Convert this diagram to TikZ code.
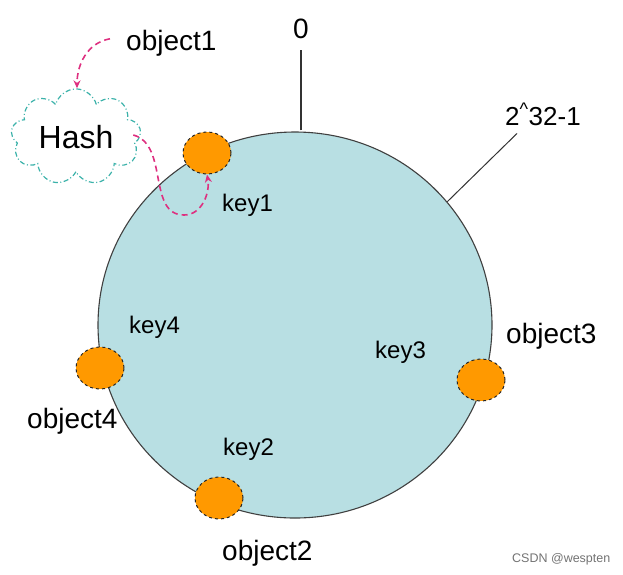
\documentclass[tikz,border=0pt]{standalone}
\usepackage{fontspec}
\setmainfont{Liberation Sans}
\usetikzlibrary{shapes.geometric,shapes.symbols,arrows.meta}
\definecolor{ringfill}{RGB}{184,223,227}
\definecolor{dotorange}{RGB}{255,153,0}
\definecolor{cloudteal}{RGB}{60,178,170}
\definecolor{flowpink}{RGB}{222,48,128}
\begin{document}
\begin{tikzpicture}[
x=1pt,y=-1pt,
ring/.style={
  ellipse,
  draw=black!75,
  fill=ringfill,
  line width=1.1pt,
  minimum width=394pt,
  minimum height=386pt
},
keydot/.style={
  ellipse,
  draw=black!85,
  fill=dotorange,
  dashed,
  line width=1pt,
  minimum width=48pt,
  minimum height=42pt,
  inner sep=0pt
},
hashcloud/.style={
  cloud,
  cloud puffs=9,
  aspect=1.45,
  inner sep=0pt,
  draw=cloudteal,
  line width=1.2pt,
  dash pattern=on 5pt off 2.5pt on 1pt off 2.5pt,
  minimum width=130pt,
  minimum height=90pt,
  font=\fontsize{32}{34}\selectfont
},
label/.style={anchor=base west,inner sep=0pt,font=\fontsize{28}{30}\selectfont},
keylabel/.style={anchor=base west,inner sep=0pt,font=\fontsize{24}{26}\selectfont},
flow/.style={flowpink,dashed,line width=1.6pt,dash pattern=on 6pt off 4pt,
  -{Stealth[length=8pt,width=7pt]}}
]
\useasboundingbox (0,0) rectangle (623,574);

\node (ring) at (295,325) [ring] {};

\node (dot1) at (207,153) [keydot] {};
\node (dot2) at (219,498) [keydot] {};
\node (dot3) at (481,380) [keydot] {};
\node (dot4) at (100,368) [keydot] {};

\node (key1) at (222,211) [keylabel] {key1};
\node (key2) at (223,455) [keylabel] {key2};
\node (key3) at (375,358) [keylabel] {key3};
\node (key4) at (129,333) [keylabel] {key4};

\node (object1) at (126,50) [label] {object1};
\node (object2) at (222,560) [label] {object2};
\node (object3) at (506,343) [label] {object3};
\node (object4) at (27,428) [label] {object4};

\node (zero) at (293,38) [label] {0};
\node (maxval) at (505,125) [label,font=\fontsize{26}{28}\selectfont] {2\textsuperscript{\textasciicircum}32-1};

\node (hash) at (76,137) [hashcloud] {Hash};

\coordinate (turn) at (184,215);

\draw [black!80,line width=1.1pt] ([yshift=1pt]zero.south |- ring.north) -- ([yshift=-12pt]zero.south);
\draw [black!80,line width=1pt] (ring.39) -- ([xshift=12pt,yshift=-8pt]maxval.south west);

\draw [flow] ([xshift=-16pt,yshift=4pt]object1.west) to[out=190,in=90] ([xshift=1pt]hash.north);
\draw [flow] ([xshift=-7pt,yshift=2pt]hash.east) to[out=-15,in=180] (turn) to[out=0,in=-80] (dot1.south);

\node (mark) at (512,562) [anchor=base west,inner sep=0pt,text=black!55,font=\fontsize{12.5}{14}\selectfont] {CSDN @wespten};

\end{tikzpicture}
\end{document}
